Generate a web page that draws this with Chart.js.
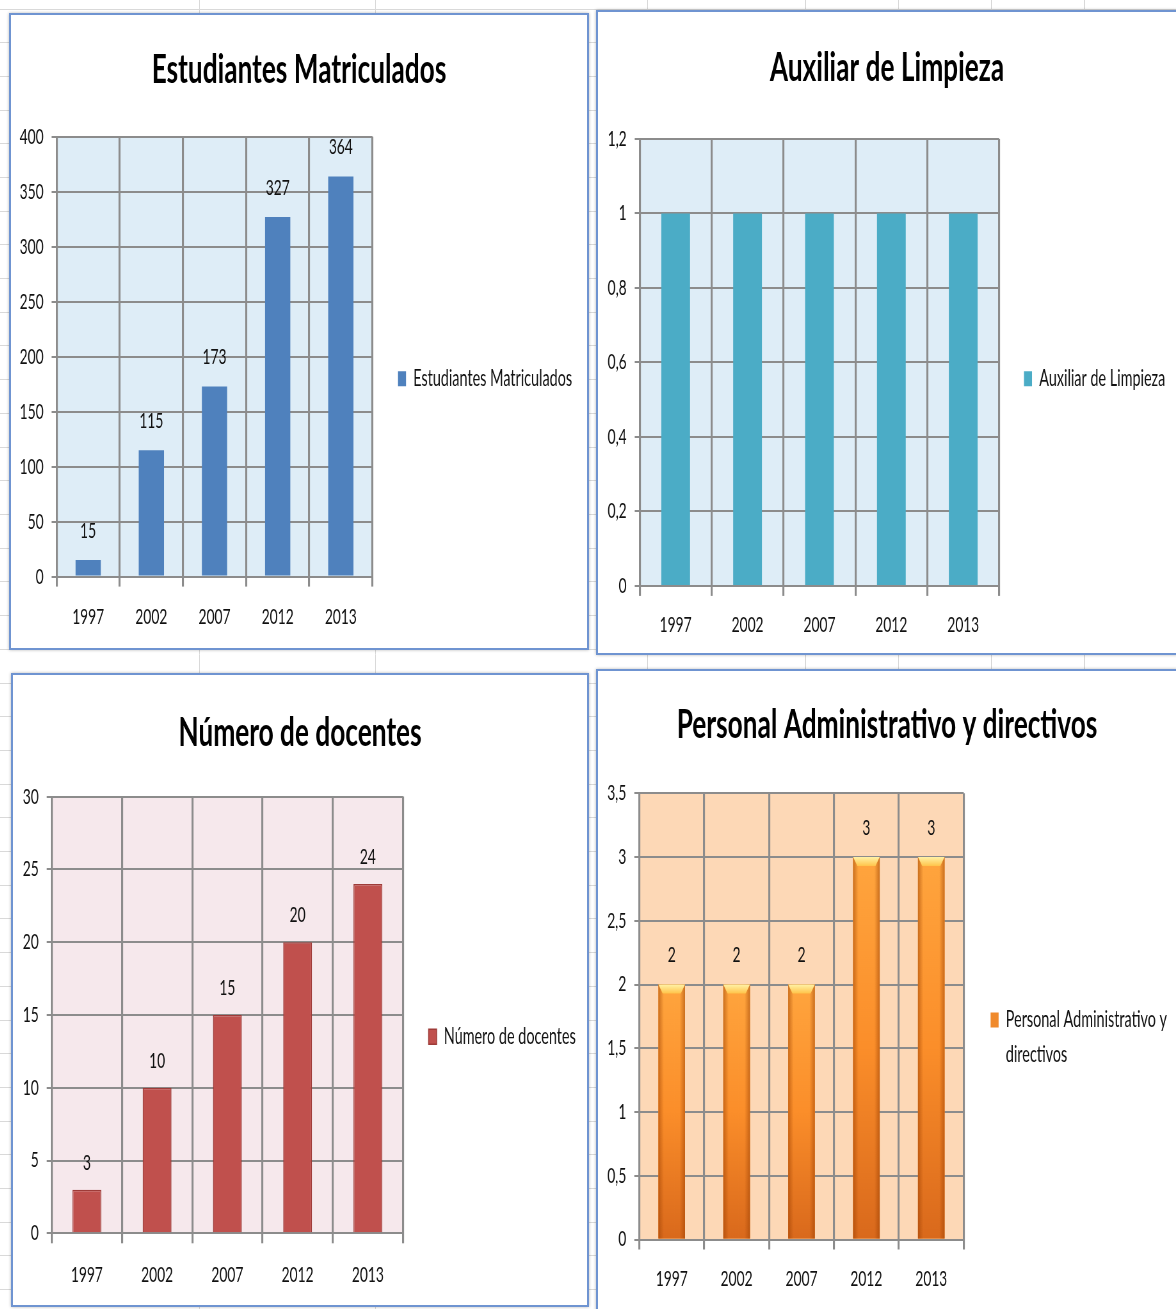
<!DOCTYPE html>
<html lang="es">
<head>
<meta charset="utf-8">
<title>Estadísticas institucionales 1997–2013</title>
<script src="https://cdn.jsdelivr.net/npm/chart.js@4.4.1/dist/chart.umd.min.js"></script>
<style>
  html, body { margin: 0; padding: 0; background: #fff; }
  body { position: relative; width: 1176px; height: 1309px; overflow: hidden; }
  #sheet { position: absolute; left: 0; top: 0; }
  .panel {
    position: absolute; box-sizing: border-box; background: #fff; overflow: hidden;
    border: 2px solid #6F94D1; box-shadow: 0 0 3px rgba(0, 0, 0, 0.28);
  }
  .panel canvas { position: absolute; left: 0; top: 0; transform-origin: 0 0; }
</style>
</head>
<body>
<canvas id="sheet" width="1176" height="1309"></canvas>
<div class="panel" id="panel-estudiantes"><canvas id="chart-estudiantes"></canvas></div>
<div class="panel" id="panel-limpieza"><canvas id="chart-limpieza"></canvas></div>
<div class="panel" id="panel-docentes"><canvas id="chart-docentes"></canvas></div>
<div class="panel" id="panel-administrativos"><canvas id="chart-administrativos"></canvas></div>
<script>
// ---------- data ----------
const years = ['1997', '2002', '2007', '2012', '2013'];

const estudiantes = [15, 115, 173, 327, 364];
const limpieza = [1, 1, 1, 1, 1];
const docentes = [3, 10, 15, 20, 24];
const administrativos = [2, 2, 2, 3, 3];

const ticksEstudiantes = [0, 50, 100, 150, 200, 250, 300, 350, 400];
const ticksLimpieza = [0, 0.2, 0.4, 0.6, 0.8, 1, 1.2];
const ticksDocentes = [0, 5, 10, 15, 20, 25, 30];
const ticksAdministrativos = [0, 0.5, 1, 1.5, 2, 2.5, 3, 3.5];

const legendAdministrativos = ['Personal Administrativo y', 'directivos'];

// ---------- look ----------
const S = 0.64;                 // horizontal squeeze of the chart canvases (narrow lettering)
const FAMILY = "Lato, 'DejaVu Sans', sans-serif";
const TITLE_SIZE = 41;
const TICK_SIZE = 21.5;
const LEGEND_SIZE = 22.5;
const LABEL_SIZE = 21.5;
const GRID = '#8C8C8C';
const INK = '#111111';

Chart.defaults.font.family = FAMILY;
Chart.defaults.color = INK;

// Page layout in px: frame box [x, y, w, h], plot rectangle [left, top, right, bottom]
const frames = {
  estudiantes:     { box: [9, 13, 580, 637],  plot: [56.6, 136.8, 372.4, 576.6],  titleY: 69.5,  xLabelY: 616.6,  legendX: 398,   legendY: 378.8,  valueGap: 29 },
  limpieza:        { box: [596, 10, 582, 645], plot: [639.7, 138.9, 999.2, 585.9], titleY: 67.3,  xLabelY: 625,    legendX: 1024,  legendY: 378.8,  valueGap: 0 },
  docentes:        { box: [11, 673, 578, 634], plot: [51.7, 796.6, 403, 1233.3],   titleY: 732.5, xLabelY: 1274.6, legendX: 428.6, legendY: 1036.7, valueGap: 27 },
  administrativos: { box: [596, 669, 582, 645], plot: [639.3, 793.3, 963.7, 1239.5], titleY: 724.6, xLabelY: 1278.8, legendX: 990.6, legendY: 1043.8, valueGap: 29.4 }
};

// ---------- spreadsheet backdrop ----------
(function drawSheet() {
  const g = document.getElementById('sheet').getContext('2d');
  g.strokeStyle = '#D9D9D9';
  g.lineWidth = 1;
  g.beginPath();
  for (let y = 8.5; y < 1309; y += 33.7) {
    const yy = Math.round(y) + 0.5;
    g.moveTo(0, yy); g.lineTo(1176, yy);
  }
  [199, 375, 647, 805, 898, 991, 1084].forEach(x => { g.moveTo(x + 0.5, 0); g.lineTo(x + 0.5, 1309); });
  g.stroke();
})();

// ---------- plugins ----------
const plotFill = {
  id: 'plotFill',
  beforeDraw(chart, args, opts) {
    const { ctx, chartArea: a } = chart;
    ctx.save();
    ctx.fillStyle = opts.color;
    ctx.fillRect(a.left, a.top, a.right - a.left, a.bottom - a.top);
    ctx.restore();
  }
};

// Gives the right-hand legend a fixed width and a chosen vertical centre.
const legendPlacement = {
  id: 'legendPlacement',
  afterInit(chart, args, opts) {
    const lg = chart.legend;
    if (!lg) return;
    const fit = lg.fit;
    const width = opts.width;
    lg.fit = function () {
      fit.call(this);
      if (width) this.width = width;
    };
  },
  afterLayout(chart, args, opts) {
    const lg = chart.legend;
    if (!lg || opts.y == null) return;
    const h = lg.bottom - lg.top;
    lg.top = opts.y - h / 2;
    lg.bottom = opts.y + h / 2;
  }
};

const glossyBars = {
  id: 'glossyBars',
  afterDatasetsDraw(chart, args, opts) {
    if (!opts.enabled) return;
    const ctx = chart.ctx;
    chart.getDatasetMeta(0).data.forEach(bar => {
      const { x, y, base, width } = bar.getProps(['x', 'y', 'base', 'width'], true);
      const l = x - width / 2, r = x + width / 2, h = base - y;
      ctx.save();
      let g = ctx.createLinearGradient(0, y, 0, base);
      g.addColorStop(0, '#FFA53E');
      g.addColorStop(0.5, '#FB8E2A');
      g.addColorStop(1, '#D9691C');
      ctx.fillStyle = g;
      ctx.fillRect(l, y, width, h);
      g = ctx.createLinearGradient(l, 0, r, 0);
      g.addColorStop(0, 'rgba(150,60,0,0.50)');
      g.addColorStop(0.2, 'rgba(150,60,0,0)');
      g.addColorStop(0.8, 'rgba(150,60,0,0)');
      g.addColorStop(1, 'rgba(150,60,0,0.50)');
      ctx.fillStyle = g;
      ctx.fillRect(l, y, width, h);
      const capH = 9, inset = width * 0.16;
      g = ctx.createLinearGradient(0, y, 0, y + capH);
      g.addColorStop(0, '#FFF2A6');
      g.addColorStop(1, '#FFC44A');
      ctx.beginPath();
      ctx.moveTo(l, y); ctx.lineTo(r, y);
      ctx.lineTo(r - inset, y + capH); ctx.lineTo(l + inset, y + capH);
      ctx.closePath();
      ctx.fillStyle = g;
      ctx.fill();
      ctx.restore();
    });
  }
};

const formatNumber = v => String(v).replace('.', ',');

const valueLabels = {
  id: 'valueLabels',
  afterDatasetsDraw(chart, args, opts) {
    if (!opts.display) return;
    const ctx = chart.ctx;
    ctx.save();
    ctx.font = `${LABEL_SIZE}px ${FAMILY}`;
    ctx.fillStyle = INK;
    ctx.textAlign = 'center';
    ctx.textBaseline = 'middle';
    chart.data.datasets.forEach((ds, di) => {
      chart.getDatasetMeta(di).data.forEach((bar, i) => {
        const { x, y } = bar.getProps(['x', 'y'], true);
        ctx.fillText(formatNumber(ds.data[i]), x, y - opts.offset);
      });
    });
    ctx.restore();
  }
};

// ---------- chart builder ----------
function makeChart(key, spec) {
  const f = frames[key];
  const [bx, by, bw, bh] = f.box;
  const panel = document.getElementById('panel-' + key);
  Object.assign(panel.style, { left: bx + 'px', top: by + 'px', width: bw + 'px', height: bh + 'px' });

  const ix = bx + 2, iy = by + 2, iw = bw - 4, ih = bh - 4;
  const W = Math.round(iw / S), H = ih;
  const sx = iw / W;
  const canvas = document.getElementById('chart-' + key);
  canvas.width = W; canvas.height = H;
  canvas.style.width = W + 'px'; canvas.style.height = H + 'px';
  canvas.style.transform = `scaleX(${sx})`;

  const cx = px => (px - ix) / sx;
  const cy = py => py - iy;
  const [pl, pt, pr, pb] = f.plot;
  const left = cx(pl), right = cx(pr), top = cy(pt), bottom = cy(pb);

  const titleLH = TITLE_SIZE * 1.2;
  const titlePadTop = cy(f.titleY) - titleLH / 2;
  const titlePadBottom = top - titlePadTop - titleLH;

  const legendPad = cx(f.legendX) - right;
  const boxW = 8 / sx;

  const xTickLen = 10;
  const xPad = (f.xLabelY - pb) - xTickLen - TICK_SIZE * 0.6;
  const yTickLen = 5 / sx, yPad = 8 / sx;

  return new Chart(canvas, {
    type: 'bar',
    data: {
      labels: years,
      datasets: [{
        label: spec.label,
        data: spec.data,
        backgroundColor: spec.color,
        borderColor: spec.border || spec.color,
        borderWidth: spec.border ? 1.5 : 0,
        barPercentage: spec.barPct,
        categoryPercentage: 1
      }]
    },
    options: {
      responsive: false,
      animation: false,
      devicePixelRatio: 1,
      events: [],
      layout: { padding: 0 },
      scales: {
        x: {
          grid: { color: GRID, lineWidth: 2 / sx, tickLength: xTickLen, offset: true },
          border: { display: false },
          ticks: { color: INK, font: { size: TICK_SIZE }, padding: xPad, maxRotation: 0, autoSkip: false },
          afterFit: s => { s.height = H - bottom; }
        },
        y: {
          min: 0,
          max: spec.ticks[spec.ticks.length - 1],
          afterBuildTicks: s => { s.ticks = spec.ticks.map(value => ({ value })); },
          grid: { color: GRID, lineWidth: 2, tickLength: yTickLen },
          border: { display: false },
          ticks: { color: INK, font: { size: TICK_SIZE }, padding: yPad, callback: v => formatNumber(v) },
          afterFit: s => { s.width = left; }
        }
      },
      plugins: {
        title: {
          display: true, text: spec.title, color: '#000',
          font: { size: TITLE_SIZE, weight: 'bold' },
          padding: { top: titlePadTop, bottom: titlePadBottom }
        },
        legend: {
          position: 'right',
          fullSize: false,
          labels: {
            boxWidth: boxW, boxHeight: 15, padding: legendPad, color: INK,
            font: { size: LEGEND_SIZE, lineHeight: spec.legendLineHeight || 1.2 },
            generateLabels: chart => {
              const items = Chart.defaults.plugins.legend.labels.generateLabels(chart);
              if (spec.legendLines) items.forEach(it => { it.text = spec.legendLines; });
              return items;
            }
          }
        },
        tooltip: { enabled: false },
        plotFill: { color: spec.plotColor },
        legendPlacement: { width: W - right, y: cy(f.legendY) },
        glossyBars: { enabled: !!spec.glossy },
        valueLabels: { display: !!spec.showValues, offset: f.valueGap }
      }
    },
    plugins: [plotFill, legendPlacement, glossyBars, valueLabels]
  });
}

makeChart('estudiantes', {
  title: 'Estudiantes Matriculados', label: 'Estudiantes Matriculados',
  data: estudiantes, ticks: ticksEstudiantes,
  color: '#4F81BD', plotColor: '#DEEDF7', barPct: 0.4, showValues: true
});
makeChart('limpieza', {
  title: 'Auxiliar de Limpieza', label: 'Auxiliar de Limpieza',
  data: limpieza, ticks: ticksLimpieza,
  color: '#4BACC6', plotColor: '#DEEDF7', barPct: 0.4, showValues: false
});
makeChart('docentes', {
  title: 'Número de docentes', label: 'Número de docentes',
  data: docentes, ticks: ticksDocentes,
  color: '#C0504D', border: '#9E3B38', plotColor: '#F6E8EC', barPct: 0.41, showValues: true
});
makeChart('administrativos', {
  title: 'Personal Administrativo y directivos', label: 'Personal Administrativo y directivos',
  legendLines: legendAdministrativos, legendLineHeight: 35 / LEGEND_SIZE,
  data: administrativos, ticks: ticksAdministrativos,
  color: '#F08A2C', plotColor: '#FDD8B6', barPct: 0.41, showValues: true, glossy: true
});
</script>
</body>
</html>
